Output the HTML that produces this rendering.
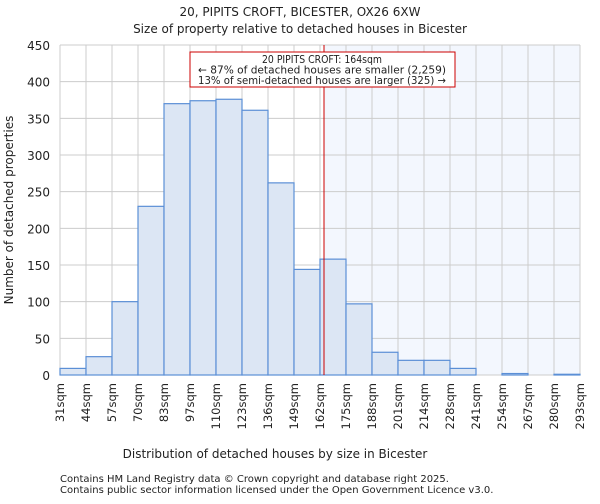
<!DOCTYPE html>
<html><head><meta charset="utf-8"><style>
body{margin:0;background:#fff;font-family:"DejaVu Sans","Liberation Sans",sans-serif;}
text{font-family:"DejaVu Sans","Liberation Sans",sans-serif;fill:#222;}
</style></head><body>
<svg id="c" width="600" height="500" viewBox="0 0 600 500">
<text x="300" y="16" text-anchor="middle" font-size="12">20, PIPITS CROFT, BICESTER, OX26 6XW</text>
<text x="300" y="33" text-anchor="middle" font-size="12">Size of property relative to detached houses in Bicester</text>
<g id="plot"></g>
<text x="275" y="458" text-anchor="middle" font-size="12">Distribution of detached houses by size in Bicester</text>
<text transform="translate(13,210) rotate(-90)" text-anchor="middle" font-size="12">Number of detached properties</text>
<text x="60" y="482" font-size="10" fill="#444">Contains HM Land Registry data © Crown copyright and database right 2025.</text>
<text x="60" y="493" font-size="10" fill="#444">Contains public sector information licensed under the Open Government Licence v3.0.</text>
</svg>
<script>
const binLabels=["31sqm","44sqm","57sqm","70sqm","83sqm","97sqm","110sqm","123sqm","136sqm","149sqm","162sqm","175sqm","188sqm","201sqm","214sqm","228sqm","241sqm","254sqm","267sqm","280sqm","293sqm"];
const binStarts=[31,44,57,70,83,97,110,123,136,149,162,175,188,201,214,228,241,254,267,280,293];
const counts=[9,25,100,230,370,374,376,361,262,144,158,97,31,20,20,9,0,2,0,1];
const yTicks=[0,50,100,150,200,250,300,350,400,450];
const propertySize=164;
const L=60,R=580,T=45,B=375,yMax=450;
const NS="http://www.w3.org/2000/svg";
const g=document.getElementById('plot');
const n=counts.length,bw=(R-L)/n;
function xi(i){return L+i*bw;}
function xv(v){let i=0;while(i<n-1&&binStarts[i+1]<=v)i++;return xi(i)+(v-binStarts[i])/(binStarts[i+1]-binStarts[i])*bw;}
function y(v){return B-v/yMax*(B-T);}
function mk(t,a){const e=document.createElementNS(NS,t);for(const k in a)e.setAttribute(k,a[k]);g.appendChild(e);return e;}
const px=xv(propertySize);
let e=mk('rect',{x:px,y:T,width:R-px,height:B-T,fill:'#f3f7fe'});


for(let i=0;i<=n;i++){e=mk('line',{x1:xi(i),x2:xi(i),y1:T,y2:B,stroke:'#ccc'});

}
yTicks.forEach(t=>{e=mk('line',{x1:L,x2:R,y1:y(t),y2:y(t),stroke:'#ccc'});


e=mk('text',{x:L-10,y:y(t)+5,'text-anchor':'end','font-size':'12'});e.textContent=t;

});
counts.forEach((c,i)=>{if(c<=0)return;e=mk('rect',{x:xi(i),y:y(c),width:bw,height:B-y(c),fill:'#dce6f4',stroke:'#5b8fd6','stroke-width':1.2});

});
binLabels.forEach((l,i)=>{const xx=xi(i)+4;e=mk('text',{x:xx,y:B+8,'text-anchor':'end','font-size':'11.5',transform:`rotate(-90 ${xx} ${B+8})`});e.textContent=l;

});
e=mk('line',{x1:px,x2:px,y1:T,y2:B,stroke:'#cc0000','stroke-width':1});


e=mk('rect',{x:190,y:52,width:265,height:35,fill:'#fff',stroke:'#cc0000'});


["20 PIPITS CROFT: 164sqm","← 87% of detached houses are smaller (2,259)","13% of semi-detached houses are larger (325) →"].forEach((s,k)=>{e=mk('text',{x:322,y:63+k*10.5,'text-anchor':'middle','font-size':'10.5','textLength':k==0?120:248,'lengthAdjust':'spacingAndGlyphs'});e.textContent=s;

});
</script>
</body></html>
